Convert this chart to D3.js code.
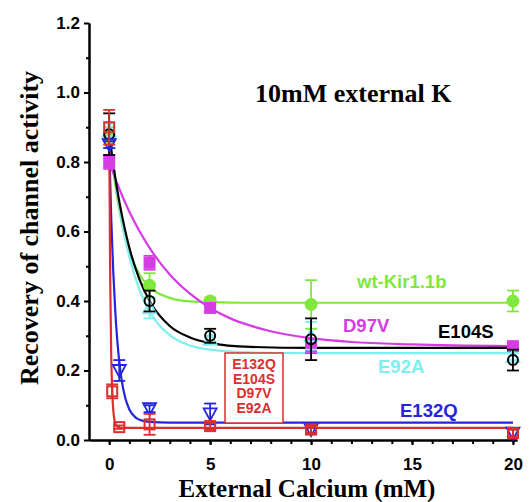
<!DOCTYPE html>
<html>
<head>
<meta charset="utf-8">
<script src="https://cdn.jsdelivr.net/npm/d3@7"></script>
<style>
  body { margin: 0; background: #fff; }
</style>
</head>
<body>
<div id="chart"></div>
<script>
// measured points (mean and error) for each channel
const wtX = [0, 2, 5, 10, 20];
const wtY = [0.87, 0.445, 0.40, 0.39, 0.40];
const wtErr = [0.03, 0.035, 0.01, 0.07, 0.03];

const d97vX = [0, 2, 5, 10, 20];
const d97vY = [0.80, 0.51, 0.38, 0.27, 0.27];
const d97vErr = [0.02, 0.02, 0.01, 0.02, 0.01];

const e104sX = [0, 2, 5, 10, 20];
const e104sY = [0.88, 0.40, 0.30, 0.29, 0.23];
const e104sErr = [0.06, 0.03, 0.02, 0.06, 0.03];

const e92aX = [0, 2, 5, 10, 20];
const e92aY = [0.89, 0.38, 0.29, 0.30, 0.24];
const e92aErr = [0.02, 0.03, 0.01, 0.04, 0.01];

const e132qX = [0, 0.5, 2, 5, 10, 20];
const e132qY = [0.85, 0.20, 0.09, 0.075, 0.03, 0.02];
const e132qErr = [0.01, 0.03, 0.01, 0.03, 0.01, 0.01];

const quadX = [0, 0.15, 0.5, 2, 5, 10, 20];
const quadY = [0.90, 0.14, 0.037, 0.045, 0.04, 0.03, 0.02];
const quadErr = [0.05, 0.02, 0.005, 0.03, 0.01, 0.01, 0.01];

// fitted curves
const wtFitX = [0, 0.25, 0.5, 0.75, 1, 1.5, 2, 3, 4, 5, 7, 10, 15, 20];
const wtFitY = [0.88, 0.755, 0.662, 0.593, 0.542, 0.476, 0.44, 0.409, 0.399, 0.397, 0.395, 0.395, 0.395, 0.395];

const d97vFitX = [0, 0.25, 0.5, 1, 1.5, 2, 3, 4, 5, 6, 7, 8, 10, 12, 15, 20];
const d97vFitY = [0.80, 0.76, 0.723, 0.657, 0.601, 0.553, 0.476, 0.421, 0.38, 0.35, 0.329, 0.313, 0.293, 0.282, 0.275, 0.27];

const e104sFitX = [0, 0.25, 0.5, 0.75, 1, 1.5, 2, 3, 4, 5, 7, 10, 15, 20];
const e104sFitY = [0.88, 0.774, 0.686, 0.614, 0.553, 0.462, 0.40, 0.328, 0.295, 0.279, 0.268, 0.265, 0.265, 0.265];

const e92aFitX = [0, 0.25, 0.5, 0.75, 1, 1.5, 2, 3, 4, 5, 7, 10, 15, 20];
const e92aFitY = [0.89, 0.769, 0.671, 0.592, 0.527, 0.432, 0.37, 0.302, 0.272, 0.26, 0.252, 0.25, 0.25, 0.25];

const e132qFitX = [0, 0.1, 0.2, 0.3, 0.4, 0.5, 0.6, 0.8, 1, 1.25, 1.5, 2, 3, 10, 20];
const e132qFitY = [0.85, 0.64, 0.486, 0.372, 0.287, 0.225, 0.179, 0.12, 0.088, 0.068, 0.058, 0.052, 0.05, 0.05, 0.05];

const quadFitX = [0, 0.05, 0.1, 0.15, 0.2, 0.3, 0.4, 0.5, 1, 10, 20];
const quadFitY = [0.90, 0.463, 0.247, 0.14, 0.087, 0.048, 0.038, 0.035, 0.035, 0.035, 0.035];

const xTicks = [0, 5, 10, 15, 20];
const yTicks = [0, 0.2, 0.4, 0.6, 0.8, 1.0, 1.2];
const boxLines = ["E132Q", "E104S", "D97V", "E92A"];

const series = [
  { name: "wt-Kir1.1b", color: "#80e83c", shape: "circle", fill: true, x: wtX, y: wtY, err: wtErr, fx: wtFitX, fy: wtFitY, lx: 357, ly: 288 },
  { name: "D97V", color: "#d63ce4", shape: "square", fill: true, x: d97vX, y: d97vY, err: d97vErr, fx: d97vFitX, fy: d97vFitY, lx: 343, ly: 332 },
  { name: "E92A", color: "#7eeef0", shape: "up", fill: false, x: e92aX, y: e92aY, err: e92aErr, fx: e92aFitX, fy: e92aFitY, lx: 378, ly: 373 },
  { name: "E104S", color: "#000000", shape: "circle", fill: false, x: e104sX, y: e104sY, err: e104sErr, fx: e104sFitX, fy: e104sFitY, lx: 438, ly: 338 },
  { name: "E132Q", color: "#2424e0", shape: "down", fill: false, x: e132qX, y: e132qY, err: e132qErr, fx: e132qFitX, fy: e132qFitY, lx: 400, ly: 417 },
  { name: "", color: "#dc2e2e", shape: "square", fill: false, x: quadX, y: quadY, err: quadErr, fx: quadFitX, fy: quadFitY }
];

const width = 530;
const height = 502;

const svg = d3.select("#chart")
  .append("svg")
  .attr("width", width)
  .attr("height", height);

const xScale = d3.scaleLinear().domain([-1, 20.2]).range([89, 517]);
const yScale = d3.scaleLinear().domain([0, 1.2]).range([440, 23]);

// axes
const xAxis = d3.axisBottom(xScale).tickValues(xTicks).tickSize(5).tickSizeOuter(0).tickPadding(13);
const xMinor = d3.axisBottom(xScale).tickValues(d3.range(0, 21, 1)).tickSize(4).tickSizeOuter(0).tickFormat("");
const yAxis = d3.axisLeft(yScale).tickValues(yTicks).tickSize(5).tickSizeOuter(0).tickPadding(4).tickFormat(d3.format(".1f"));
const yMinor = d3.axisLeft(yScale).tickValues(d3.range(0.1, 1.2, 0.2)).tickSize(3).tickSizeOuter(0).tickFormat("");

const axisStyle = g => {
  g.selectAll("path, line").attr("stroke", "#000").attr("stroke-width", 2);
  g.selectAll("text")
    .style("font-family", "'Liberation Sans', Arial, sans-serif")
    .style("font-weight", "bold")
    .style("font-size", "17px")
    .attr("fill", "#000");
};

svg.append("g").attr("transform", "translate(0,440)").call(xMinor).call(axisStyle);
svg.append("g").attr("transform", "translate(0,440)").call(xAxis).call(axisStyle);
svg.append("g").attr("transform", "translate(89,0)").call(yMinor).call(axisStyle);
svg.append("g").attr("transform", "translate(89,0)").call(yAxis).call(axisStyle);

// axis titles
svg.append("text")
  .attr("x", 307)
  .attr("y", 497)
  .attr("text-anchor", "middle")
  .style("font-family", "'Liberation Serif', 'Times New Roman', serif")
  .style("font-weight", "bold")
  .style("font-size", "25px")
  .text("External Calcium (mM)");

svg.append("text")
  .attr("transform", "rotate(-90)")
  .attr("x", -228)
  .attr("y", 38)
  .attr("text-anchor", "middle")
  .style("font-family", "'Liberation Serif', 'Times New Roman', serif")
  .style("font-weight", "bold")
  .style("font-size", "26px")
  .text("Recovery of channel activity");

svg.append("text")
  .attr("x", 255)
  .attr("y", 102)
  .style("font-family", "'Liberation Serif', 'Times New Roman', serif")
  .style("font-weight", "bold")
  .style("font-size", "26px")
  .text("10mM external K");

// fit curves
const line = d3.line()
  .x(d => xScale(d[0]))
  .y(d => yScale(d[1]))
  .curve(d3.curveMonotoneX);

series.forEach(s => {
  svg.append("path")
    .datum(s.fx.map((x, i) => [x, s.fy[i]]))
    .attr("fill", "none")
    .attr("stroke", s.color)
    .attr("stroke-width", 2.2)
    .attr("d", line);
});

// markers with error bars
const drawMarker = (g, s, cx, cy) => {
  const fill = s.fill ? s.color : "none";
  if (s.shape === "circle") {
    g.append("circle").attr("cx", cx).attr("cy", cy).attr("r", s.fill ? 5.5 : 5)
      .attr("fill", fill).attr("stroke", s.color).attr("stroke-width", 2);
  } else if (s.shape === "square") {
    g.append("rect").attr("x", cx - 5).attr("y", cy - 5).attr("width", 10).attr("height", 10)
      .attr("fill", fill).attr("stroke", s.color).attr("stroke-width", 2);
  } else {
    const dir = s.shape === "up" ? -1 : 1;
    g.append("path")
      .attr("d", `M${cx - 6.5},${cy - dir * 5.5}L${cx + 6.5},${cy - dir * 5.5}L${cx},${cy + dir * 6.5}Z`)
      .attr("fill", "none").attr("stroke", s.color).attr("stroke-width", 1.8);
  }
};

series.forEach(s => {
  const g = svg.append("g");
  s.x.forEach((x, i) => {
    const cx = xScale(x);
    const top = yScale(s.y[i] + s.err[i]);
    const bot = yScale(Math.max(0, s.y[i] - s.err[i]));
    g.append("line").attr("x1", cx).attr("x2", cx).attr("y1", top).attr("y2", bot)
      .attr("stroke", s.color).attr("stroke-width", 1.8);
    [top, bot].forEach(yy => {
      g.append("line").attr("x1", cx - 6).attr("x2", cx + 6).attr("y1", yy).attr("y2", yy)
        .attr("stroke", s.color).attr("stroke-width", 1.8);
    });
    drawMarker(g, s, cx, yScale(s.y[i]));
  });
});

// series labels
series.filter(s => s.name).forEach(s => {
  svg.append("text")
    .attr("x", s.lx)
    .attr("y", s.ly)
    .attr("fill", s.color)
    .style("font-family", "'Liberation Sans', Arial, sans-serif")
    .style("font-weight", "bold")
    .style("font-size", "18.5px")
    .text(s.name);
});

// label box for the quadruple mutant
const red = series[5].color;
svg.append("rect")
  .attr("x", 225).attr("y", 353).attr("width", 58).attr("height", 70)
  .attr("fill", "#fff").attr("stroke", red).attr("stroke-width", 1.5);

boxLines.forEach((t, i) => {
  svg.append("text")
    .attr("x", 254)
    .attr("y", 369 + i * 14.5)
    .attr("text-anchor", "middle")
    .attr("fill", red)
    .style("font-family", "'Liberation Sans', Arial, sans-serif")
    .style("font-weight", "bold")
    .style("font-size", "14px")
    .text(t);
});
</script>
</body>
</html>
